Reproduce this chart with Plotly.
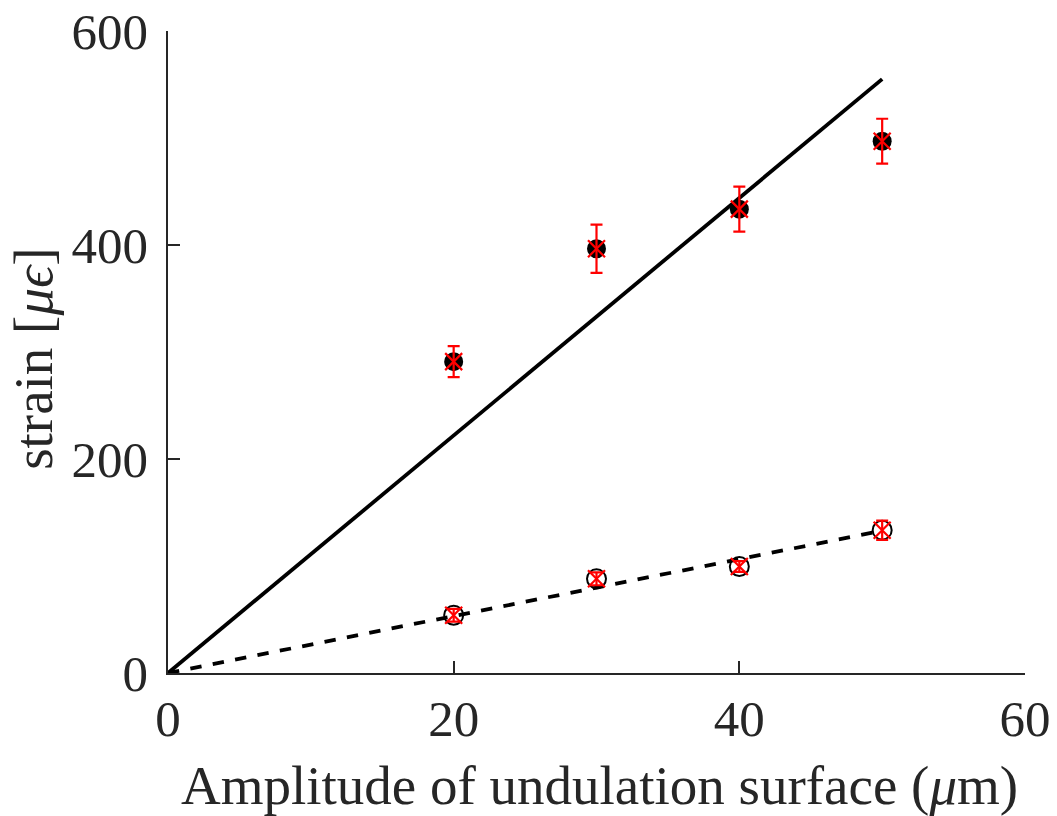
import plotly.graph_objects as go

amplitude = [20, 30, 40, 50]
strain_top = [291, 396.5, 433.5, 497]
err_top = [14.5, 22.5, 21, 21]
strain_bot = [54, 88, 99.5, 133.5]
err_bot = [6, 6, 5, 9]
fit_x = [0, 50]
fit_top = [0, 555]
fit_bot = [0, 133]

fig = go.Figure()
fig.add_trace(go.Scatter(x=fit_x, y=fit_top, mode="lines",
                         line=dict(color="black", width=3.8), showlegend=False))
fig.add_trace(go.Scatter(x=fit_x, y=fit_bot, mode="lines",
                         line=dict(color="black", width=3.8, dash="dash"), showlegend=False))
fig.add_trace(go.Scatter(x=amplitude, y=strain_top, mode="markers",
                         marker=dict(symbol="circle", size=19, color="black"), showlegend=False))
fig.add_trace(go.Scatter(x=amplitude, y=strain_bot, mode="markers",
                         marker=dict(symbol="circle-open", size=19, color="black", line=dict(width=2)),
                         showlegend=False))
for ys, es in [(strain_top, err_top), (strain_bot, err_bot)]:
    fig.add_trace(go.Scatter(x=amplitude, y=ys, mode="markers",
                             marker=dict(symbol="x-thin-open", size=17, color="red",
                                         line=dict(width=2.2, color="red")),
                             error_y=dict(type="data", array=es, visible=True, color="red",
                                          thickness=2.2, width=6),
                             showlegend=False))

serif = "Liberation Serif, Times New Roman, serif"
tickfont = dict(family=serif, size=51, color="#262626")
titlefont = dict(family=serif, size=55, color="#262626")
fig.update_layout(
    width=1057, height=816,
    margin=dict(l=168, r=32, t=31, b=143),
    plot_bgcolor="white", paper_bgcolor="white",
    font=tickfont,
    xaxis=dict(range=[0, 60], tickvals=[0, 20, 40, 60], showgrid=False, zeroline=False,
               showline=True, linecolor="#262626", linewidth=1.5, automargin=False,
               ticks="inside", ticklen=12, tickwidth=1.5, tickcolor="#262626",
               tickfont=tickfont),
    yaxis=dict(range=[0, 600], tickvals=[0, 200, 400, 600], showgrid=False, zeroline=False,
               showline=True, linecolor="#262626", linewidth=1.5, automargin=False,
               ticks="inside", ticklen=12, tickwidth=1.5, tickcolor="#262626",
               tickfont=tickfont, ticklabelstandoff=8),
    annotations=[
        dict(text="Amplitude of undulation surface (<i>μ</i>m)", xref="paper", yref="paper",
             x=0.503, y=-0.175, xanchor="center", yanchor="middle", showarrow=False,
             font=titlefont),
        dict(text="strain [<i>μϵ</i>]", xref="paper", yref="paper",
             x=-0.157, y=0.49, xanchor="center", yanchor="middle", showarrow=False,
             textangle=-90, font=titlefont),
    ],
)
fig.write_html("out.html")
